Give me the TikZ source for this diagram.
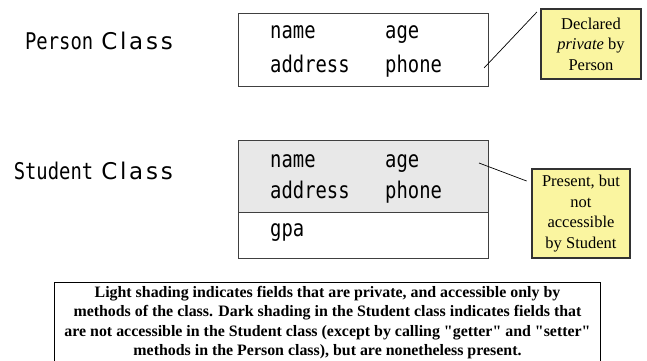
\documentclass[tikz,border=0pt]{standalone}
\usepackage{fontspec}
\setmainfont{Liberation Serif}
\newfontfamily\fieldfont[FakeStretch=0.82]{DejaVu Sans Mono}
\newfontfamily\classfont[LetterSpace=12]{DejaVu Sans}
\usetikzlibrary{positioning}
\usetikzlibrary{calc}

\begin{document}
\begin{tikzpicture}[x=1pt,y=-1pt,
	class box/.style={draw=boxline,line width=1.3pt,minimum width=250pt,anchor=north west,inner sep=0pt},
	field/.style={anchor=base west,inner sep=0pt,font=\fieldfont\fontsize{23}{25}\selectfont},
	class label/.style={anchor=base east,inner sep=0pt,font=\fontsize{23}{25}\selectfont},
	note/.style={draw=noteline,line width=1.3pt,fill=notefill,align=center,inner sep=0pt,
		font=\fontsize{16.5}{20.5}\selectfont},
	pin/.style={draw=black,line width=0.7pt,shorten >=5pt}]
	
	\definecolor{boxline}{RGB}{64,64,64}
	\definecolor{noteline}{RGB}{50,50,50}
	\definecolor{notefill}{RGB}{250,245,160}
	\definecolor{shade}{RGB}{232,232,232}
	
	\useasboundingbox (0,0) rectangle (647,360);
	
	% Person class
	\node[class label] (plabel) at (173,49) {{\fieldfont Person}\hspace{8pt}{\classfont Class}};
	\node[class box, minimum height=73pt] (pbox) at (238,13) {};
	\node[field] (pname) at (270,38) {name};
	\node[field] (page) at (385,38) {age};
	\node[field] (paddr) at (270,72) {address};
	\node[field] (pphone) at (385,72) {phone};
	\coordinate (ppin) at (484,68);
	\node[note, minimum width=100pt, minimum height=70pt] (pnote) at (591,44)
		{Declared\\\textit{private} by\\Person};
	
	% Student class
	\node[class label] (slabel) at (173,179) {{\fieldfont Student}\hspace{8pt}{\classfont Class}};
	\node[class box, fill=shade, minimum height=72pt] (sbox) at (238,140) {};
	\node[class box, minimum height=46pt] (gbox) at (238,212) {};
	\node[field] (sname) at (270,167) {name};
	\node[field] (sage) at (385,167) {age};
	\node[field] (saddr) at (270,198) {address};
	\node[field] (sphone) at (385,198) {phone};
	\node[field] (sgpa) at (270,236) {gpa};
	\coordinate (spin) at (479,163);
	\node[note, minimum width=98pt, minimum height=89pt] (snote) at (581,213.5)
		{Present, but\\not\\accessible\\by Student};
	
	\path[pin]
	(ppin) edge (pnote.north west)
	(spin) edge ($(snote.north west)!0.16!(snote.south west)$);
	
	% legend
	\node[draw=black, line width=1pt, anchor=north west, minimum width=546pt, minimum height=80pt,
		align=center, inner sep=0pt, font=\bfseries\fontsize{15.9}{19.3}\selectfont] (legend) at (54,282)
		{Light shading indicates fields that are private, and accessible only by\\
		methods of the class. Dark shading in the Student class indicates fields that\\
		are not accessible in the Student class (except by calling \textquotedbl getter\textquotedbl\ and \textquotedbl setter\textquotedbl\\
		methods in the Person class), but are nonetheless present.};
\end{tikzpicture}
\end{document}
